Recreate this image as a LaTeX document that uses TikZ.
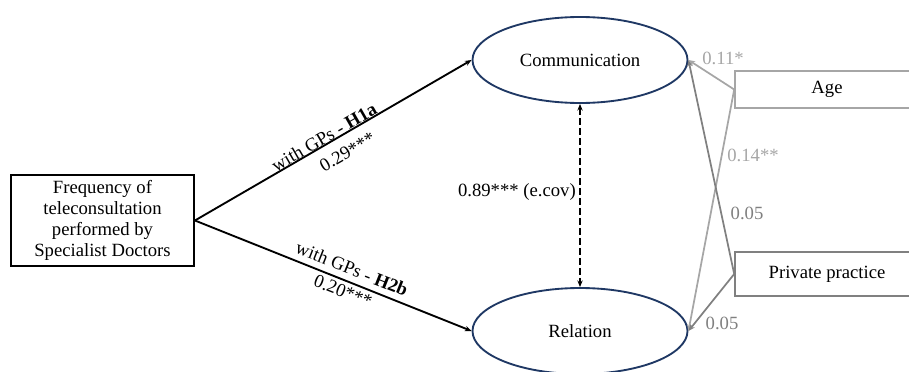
\documentclass[tikz,border=0pt]{standalone}
\usepackage{fontspec}
\setmainfont{Liberation Serif}
\usetikzlibrary{arrows.meta,shapes.geometric,calc}
\definecolor{navy}{HTML}{1F3864}
\definecolor{lgray}{HTML}{A6A6A6}
\definecolor{mgray}{HTML}{808080}
\begin{document}
\begin{tikzpicture}[x=0.75pt,y=-0.75pt,
  font=\fontsize{14}{15.75}\selectfont,
  lat/.style={ellipse, draw=navy, line width=1.4pt, minimum width=161.25pt, minimum height=64.5pt, inner sep=0pt},
  srcbox/.style={draw=black, line width=1.4pt, minimum width=137.25pt, minimum height=68.25pt, inner sep=0pt, align=center},
  covbox/.style={line width=1.2pt, minimum width=138pt, inner sep=0pt},
  blk/.style={-{Stealth[length=5pt,width=4pt]}, line width=1.4pt, black},
  gl/.style={-{Stealth[length=5pt,width=4pt]}, line width=1.3pt, lgray},
  gm/.style={-{Stealth[length=5pt,width=4pt]}, line width=1.3pt, mgray},
  lab/.style={inner sep=0pt}
]
\useasboundingbox (0,0) rectangle (909,371);
\node[srcbox] (src) at (102.5,220.5) {Frequency of\\teleconsultation\\performed by\\Specialist Doctors};
\node[lat] (com) at (580,60) {Communication};
\node[lat] (rel) at (580,331) {Relation};
\node[covbox, draw=lgray, minimum height=27.75pt] (age) at (827,89.5) {Age};
\node[covbox, draw=mgray, minimum height=33pt] (pp) at (827,274) {Private practice};

\draw[blk] (src.east) -- (com.west)
  coordinate[pos=0.48] (m1) coordinate[pos=0.52] (m2);
\draw[blk] (src.east) -- (rel.west)
  coordinate[pos=0.55] (m3);
\node[lab, rotate=29.95] (l1) at ($(m1)!5.5pt!90:(com.west)$) {with GPs - \textbf{H1a}};
\node[lab, rotate=29.95] (l2) at ($(m2)!13pt!-90:(com.west)$) {0.29***};
\node[lab, rotate=-21.6] (l3) at ($(m3)!10pt!90:(rel.west)$) {with GPs - \textbf{H2b}};
\node[lab, rotate=-21.6] (l4) at ($(m3)!8pt!-90:(rel.west)$) {0.20***};

\draw[{Stealth[length=5pt,width=4pt]}-{Stealth[length=5pt,width=4pt]}, line width=1.2pt, dash pattern=on 5pt off 2.5pt] (com.south) -- (rel.north);
\node[anchor=east, inner sep=0pt] (cov) at (576,192) {0.89*** (e.cov)};

\draw[gl] (age.west) -- (com.east);
\draw[gl] (age.west) -- (rel.east);
\draw[gm] (pp.west) -- (com.east);
\draw[gm] (pp.west) -- (rel.east);
\node[text=lgray, inner sep=0pt] (a1) at (723,58) {0.11*};
\node[text=lgray, inner sep=0pt] (a2) at (753,155) {0.14**};
\node[text=mgray, inner sep=0pt] (p1) at (747,213) {0.05};
\node[text=mgray, inner sep=0pt] (p2) at (722,323) {0.05};
\end{tikzpicture}
\end{document}
